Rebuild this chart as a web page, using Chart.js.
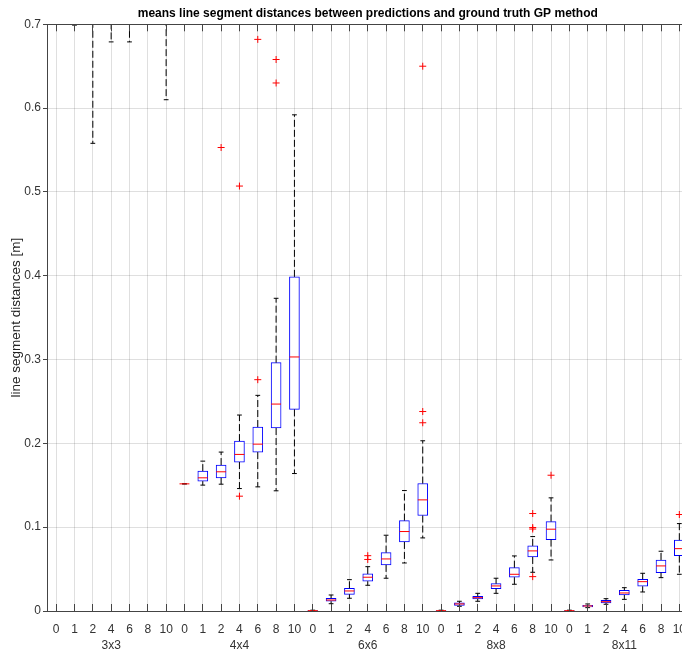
<!DOCTYPE html>
<html>
<head>
<meta charset="utf-8">
<script src="https://cdn.jsdelivr.net/npm/chart.js@4/dist/chart.umd.min.js"></script>
<style>
  html, body { margin: 0; padding: 0; background: #fff; overflow: hidden; }
  #wrap { width: 700px; height: 652px; }
</style>
</head>
<body>
<div id="wrap"><canvas id="c" width="700" height="652"></canvas></div>
<script>
// ---------- data ----------
const groups = ['3x3', '4x4', '6x6', '8x8', '8x11'];
const levels = ['0', '1', '2', '4', '6', '8', '10'];

// one entry per box, ordered group by group (3x3: 0..10, 4x4: 0..10, ...)
const whiskerLow = [
  0.74, 0.699, 0.558, 0.679, 0.679, 0.71, 0.61,
  0.1517, 0.1502, 0.1513, 0.1461, 0.1481, 0.1434, 0.164,
  0.0000, 0.0087, 0.0152, 0.0307, 0.0391, 0.0573, 0.0872,
  0.0000, 0.0056, 0.0116, 0.0211, 0.0319, 0.0462, 0.0609,
  0.0000, 0.0040, 0.0080, 0.0139, 0.0227, 0.0398, 0.0438
];
const boxLow = [
  0.82, 0.78, 0.74, 0.75, 0.74, 0.76, 0.73,
  0.1517, 0.1549, 0.1589, 0.1777, 0.1896, 0.2183, 0.2405,
  0.0002, 0.0116, 0.0199, 0.0355, 0.0550, 0.0824, 0.1139,
  0.0002, 0.0068, 0.0143, 0.0266, 0.0403, 0.0645, 0.0852,
  0.0002, 0.0048, 0.0096, 0.0191, 0.0295, 0.0458, 0.0661
];
const median = [
  0.88, 0.84, 0.82, 0.80, 0.79, 0.81, 0.80,
  0.1517, 0.1589, 0.1661, 0.1868, 0.1991, 0.2469, 0.3031,
  0.0004, 0.0131, 0.0239, 0.0403, 0.0621, 0.0948, 0.1326,
  0.0004, 0.0084, 0.0159, 0.0299, 0.0438, 0.0717, 0.0976,
  0.0004, 0.0060, 0.0111, 0.0215, 0.0350, 0.0538, 0.0744
];
const boxHigh = [
  0.95, 0.90, 0.90, 0.86, 0.85, 0.87, 0.87,
  0.1517, 0.1669, 0.1741, 0.2027, 0.2195, 0.2963, 0.3987,
  0.0006, 0.0152, 0.0271, 0.0442, 0.0697, 0.1079, 0.1521,
  0.0006, 0.0096, 0.0176, 0.0326, 0.0517, 0.0777, 0.1067,
  0.0006, 0.0068, 0.0128, 0.0247, 0.0379, 0.0609, 0.0845
];
const whiskerHigh = [
  1.08, 1.02, 1.05, 0.98, 0.96, 0.99, 1.03,
  0.1517, 0.1788, 0.1896, 0.2338, 0.2573, 0.3731, 0.592,
  0.0010, 0.0191, 0.0374, 0.0529, 0.0904, 0.1437, 0.2031,
  0.0010, 0.0116, 0.0211, 0.0391, 0.0657, 0.0888, 0.1350,
  0.0010, 0.0084, 0.0147, 0.0278, 0.0450, 0.0713, 0.1043
];
// outliers: box index and value
const outlierBox   = [9, 10, 10, 11, 11, 12, 12, 17, 17, 20, 20, 20, 26, 26, 26, 26, 27, 34];
const outlierValue = [0.553, 0.507, 0.137, 0.682, 0.276, 0.658, 0.630, 0.066, 0.0615,
                      0.650, 0.238, 0.2246, 0.1163, 0.0996, 0.0978, 0.041, 0.162, 0.1151];

const yTicks = [0, 0.1, 0.2, 0.3, 0.4, 0.5, 0.6, 0.7];

// ---------- build datasets ----------
const nBox = whiskerLow.length;
const boxHalf = 0.27, capHalf = 0.13;
const boxes = [], whiskers = [], caps = [], medians = [];
for (let i = 0; i < nBox; i++) {
  boxes.push({x: i, y: [boxLow[i], boxHigh[i]]});
  if (whiskerHigh[i] > boxHigh[i]) whiskers.push({x: i, y: boxHigh[i]}, {x: i, y: whiskerHigh[i]}, {x: i, y: null});
  if (whiskerLow[i] < boxLow[i]) whiskers.push({x: i, y: boxLow[i]}, {x: i, y: whiskerLow[i]}, {x: i, y: null});
  caps.push({x: i - capHalf, y: whiskerHigh[i]}, {x: i + capHalf, y: whiskerHigh[i]}, {x: i, y: null});
  caps.push({x: i - capHalf, y: whiskerLow[i]}, {x: i + capHalf, y: whiskerLow[i]}, {x: i, y: null});
  medians.push({x: i - boxHalf, y: median[i]}, {x: i + boxHalf, y: median[i]}, {x: i, y: null});
}
const outliers = outlierBox.map((b, k) => ({x: b, y: outlierValue[k]}));

const FONT = "'Liberation Sans', Arial, Helvetica, sans-serif";
const AXIS = '#444444';
const GRID = 'rgba(38,38,38,0.15)';
const boxIdx = Array.from({length: nBox}, (_, i) => i);
const groupCenters = groups.map((g, k) => k * levels.length + (levels.length - 1) / 2);

const frame = {
  id: 'frame',
  afterDatasetsDraw(chart) {
    const {ctx, chartArea: {left, right, top, bottom}, scales: {x}} = chart;
    ctx.save();
    ctx.strokeStyle = AXIS;
    ctx.lineWidth = 1;
    ctx.beginPath();
    ctx.moveTo(left, Math.round(top) + 0.5);
    ctx.lineTo(right, Math.round(top) + 0.5);
    x.ticks.forEach(t => {
      const px = Math.floor(x.getPixelForValue(t.value)) + 0.5;
      ctx.moveTo(px, bottom); ctx.lineTo(px, bottom - 7);
      ctx.moveTo(px, top); ctx.lineTo(px, top + 7);
    });
    ctx.stroke();
    ctx.restore();
  }
};

new Chart(document.getElementById('c'), {
  type: 'bar',
  data: {
    datasets: [
      { type: 'bar', data: boxes, backgroundColor: '#ffffff', borderColor: '#0000ff',
        borderWidth: 1, borderSkipped: false, barThickness: 10, order: 6, clip: 0 },
      { type: 'line', data: whiskers, borderColor: '#000000', borderWidth: 1,
        borderDash: [7, 3], pointRadius: 0, spanGaps: false, order: 5, clip: 0 },
      { type: 'line', data: caps, borderColor: '#000000', borderWidth: 1,
        pointRadius: 0, spanGaps: false, order: 4, clip: 0 },
      { type: 'line', data: medians, borderColor: '#ff0000', borderWidth: 1,
        pointRadius: 0, spanGaps: false, order: 3, clip: 0 },
      { type: 'scatter', data: outliers, pointStyle: 'cross', pointRadius: 3.5,
        borderColor: '#ff0000', borderWidth: 1, backgroundColor: '#ff0000', order: 2, clip: 0 }
    ]
  },
  options: {
    responsive: false,
    animation: false,
    devicePixelRatio: 1,
    layout: { padding: { left: 0, right: 11.5, top: 0, bottom: 0 } },
    plugins: {
      legend: { display: false },
      tooltip: { enabled: false },
      title: {
        display: true, fullSize: false,
        text: 'means line segment distances between predictions and ground truth GP method',
        color: '#000000', font: { family: FONT, size: 12, weight: 'bold' },
        padding: { top: 6, bottom: 3.9 }
      }
    },
    scales: {
      x: {
        type: 'linear', position: 'bottom', weight: 0, offset: false,
        min: -0.5, max: nBox - 0.5,
        afterBuildTicks: s => { s.ticks = boxIdx.map(v => ({value: v})); },
        afterFit: s => { s.height = 26; },
        ticks: {
          autoSkip: false, maxRotation: 0, padding: 11.5, color: '#333333',
          font: { family: FONT, size: 12 },
          callback: v => levels[v % levels.length]
        },
        grid: { color: GRID, drawTicks: false, lineWidth: 1, offset: false },
        border: { color: AXIS, width: 1 }
      },
      xg: {
        type: 'linear', position: 'bottom', weight: 1, offset: false,
        min: -0.5, max: nBox - 0.5,
        afterBuildTicks: s => { s.ticks = groupCenters.map(v => ({value: v})); },
        afterFit: s => { s.height = 15; },
        ticks: {
          autoSkip: false, maxRotation: 0, padding: 1, color: '#333333',
          font: { family: FONT, size: 12 },
          callback: v => groups[Math.round((v - (levels.length - 1) / 2) / levels.length)]
        },
        grid: { display: false, drawTicks: false, offset: false },
        border: { display: false }
      },
      y: {
        type: 'linear', position: 'left',
        min: 0, max: 0.7,
        afterBuildTicks: s => { s.ticks = yTicks.map(v => ({value: v})); },
        afterFit: s => { s.width = 47; },
        ticks: {
          padding: 2, color: '#333333', font: { family: FONT, size: 12 },
          callback: v => (v === 0 ? '0' : v.toFixed(1))
        },
        grid: { color: GRID, drawTicks: true, tickLength: 4, tickColor: AXIS, lineWidth: 1 },
        border: { color: AXIS, width: 1 },
        title: {
          display: true, text: 'line segment distances [m]', color: '#222222',
          font: { family: FONT, size: 13.5 }, padding: { top: 8.5, bottom: 0 }
        }
      }
    }
  },
  plugins: [frame]
});
</script>
</body>
</html>
